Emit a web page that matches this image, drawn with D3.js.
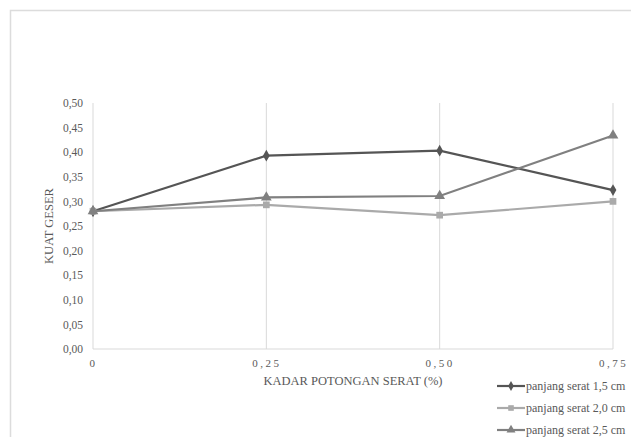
<!DOCTYPE html>
<html><head><meta charset="utf-8">
<script src="https://cdn.jsdelivr.net/npm/d3@7"></script>
<style>body{margin:0;background:#fff;}svg{display:block;font-family:"Liberation Serif","Times New Roman",serif;}</style>
</head><body><svg id="c" width="631" height="437"></svg>
<script>
const categories = [0, 0.25, 0.50, 0.75];
const xTickLabels = ["0", "0,25", "0,50", "0,75"];
const yTicks = [0,0.05,0.10,0.15,0.20,0.25,0.30,0.35,0.40,0.45,0.50];
const seriesNames = ["panjang serat 1,5 cm", "panjang serat 2,0 cm", "panjang serat 2,5 cm"];
const s15 = [0.280, 0.393, 0.403, 0.323];
const s20 = [0.280, 0.293, 0.272, 0.300];
const s25 = [0.280, 0.308, 0.311, 0.434];
const seriesValues = [s15, s20, s25];
const colors = ["#555555", "#aaaaaa", "#808080"];
const symbols = [d3.symbolDiamond, d3.symbolSquare, d3.symbolTriangle];

const svg = d3.select("#c");
svg.append("rect").attr("x",10.5).attr("y",10.5).attr("width",640).attr("height",440)
  .attr("fill","none").attr("stroke","#dcdcdc").attr("stroke-width",1.5);

const x = d3.scalePoint().domain(categories).range([93, 613]);
const y = d3.scaleLinear().domain([0, 0.5]).range([349, 103]);

svg.append("g").selectAll("line").data(categories).join("line")
  .attr("x1", d=>x(d)).attr("x2", d=>x(d)).attr("y1", y(0.5)).attr("y2", y(0))
  .attr("stroke", "#d9d9d9").attr("stroke-width", 1);
svg.append("line").attr("x1",93).attr("x2",613).attr("y1",y(0)).attr("y2",y(0))
  .attr("stroke","#d9d9d9");

const fmt = d => d.toFixed(2).replace(".", ",");
const yAxis = d3.axisLeft(y).tickValues(yTicks).tickFormat(fmt).tickSize(0).tickPadding(10);
const gy = svg.append("g").attr("transform","translate(93,0)").call(yAxis);
gy.select(".domain").remove();
gy.selectAll("text").attr("font-size", 11.5).attr("fill","#595959").attr("font-family","Liberation Serif, serif");

const xAxis = d3.axisBottom(x).tickFormat((d,i)=>xTickLabels[i]).tickSize(0).tickPadding(10);
const gx = svg.append("g").attr("transform",`translate(0,${y(0)})`).call(xAxis);
gx.select(".domain").remove();
gx.selectAll("text").attr("font-size", 11).attr("fill","#595959").attr("letter-spacing","2.5px").attr("font-family","Liberation Serif, serif");

svg.append("text").attr("x", 353).attr("y", 385).attr("text-anchor","middle")
  .attr("font-size", 12.5).attr("fill","#595959").text("KADAR POTONGAN SERAT (%)");
svg.append("text").attr("transform","translate(53,226) rotate(-90)").attr("text-anchor","middle")
  .attr("font-size", 12.5).attr("fill","#595959").text("KUAT GESER");

const line = d3.line().x((d,i)=>x(categories[i])).y(d=>y(d));
const sizes = [40, 45, 50];
seriesValues.forEach((vals, k) => {
  svg.append("path").datum(vals).attr("d", line).attr("fill","none")
    .attr("stroke", colors[k]).attr("stroke-width", 2.2);
  svg.append("g").selectAll("path").data(vals).join("path")
    .attr("transform", (d,i)=>`translate(${x(categories[i])},${y(d)})`)
    .attr("d", d3.symbol().type(symbols[k]).size(sizes[k]))
    .attr("fill", colors[k]);
});

const lg = svg.append("g");
seriesNames.forEach((n,k) => {
  const ly = 386 + k*22;
  lg.append("line").attr("x1",497).attr("x2",525).attr("y1",ly).attr("y2",ly)
    .attr("stroke",colors[k]).attr("stroke-width",2.2);
  lg.append("path").attr("transform",`translate(511,${ly})`)
    .attr("d", d3.symbol().type(symbols[k]).size(sizes[k]*0.7)).attr("fill",colors[k]);
  lg.append("text").attr("x",526).attr("y",ly+4).attr("font-size",12)
    .attr("fill","#595959").text(n);
});
</script></body></html>
